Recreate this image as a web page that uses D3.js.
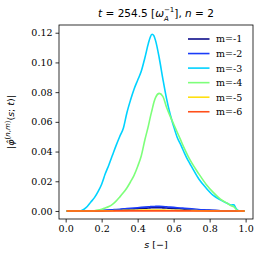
<!DOCTYPE html>
<html><head><meta charset="utf-8">
<script src="https://cdn.jsdelivr.net/npm/d3@7"></script>
<style>
body{margin:0;background:#fff;}
svg{display:block;}
text{fill:#000;}
</style></head>
<body>
<svg id="c" width="262" height="260"></svg>
<script>
const sGrid = [0.005,0.04,0.08,0.10,0.12,0.14,0.16,0.18,0.20,0.22,
  0.24,0.26,0.28,0.30,0.32,0.34,0.36,0.38,0.40,0.42,
  0.44,0.46,0.47,0.48,0.49,0.50,0.52,0.54,0.56,0.58,
  0.60,0.62,0.64,0.66,0.68,0.70,0.74,0.78,0.82,0.86,
  0.90,0.92,0.935,0.945,0.955,0.97,0.995];
const mLabels = ["m=-1","m=-2","m=-3","m=-4","m=-5","m=-6"];
const mColors = ["#0c0c8a","#1a3cf8","#00d2ff","#7dff7a","#ffe010","#ff4f1a"];
const m1 = [0,0,0,0,0,0,0,0.0001,0.0002,0.0003,
  0.0004,0.0005,0.0007,0.0008,0.001,0.0011,0.0013,0.0014,0.0016,0.0017,
  0.0019,0.002,0.0021,0.0022,0.0022,0.0022,0.0022,0.0021,0.002,0.0018,
  0.0017,0.0015,0.0014,0.0012,0.0011,0.001,0.0007,0.0005,0.0003,0.0001,
  0,0,0,0,0,0,0];
const m2 = [0,0,0,0,0,0,0.0001,0.0002,0.0003,0.0005,
  0.0006,0.0008,0.001,0.0012,0.0014,0.0016,0.0018,0.002,0.0022,0.0024,
  0.0026,0.0028,0.0029,0.003,0.003,0.0031,0.0031,0.003,0.0028,0.0026,
  0.0024,0.0022,0.002,0.0018,0.0016,0.0014,0.001,0.0007,0.0004,0.0002,
  0.0001,0,0,0,0,0,0];
const m3 = [0,0,0,0.001,0.003,0.006,0.009,0.013,0.018,0.025,
  0.031,0.0375,0.044,0.050,0.0555,0.066,0.0745,0.082,0.088,0.094,
  0.103,0.113,0.117,0.119,0.118,0.1145,0.103,0.089,0.076,0.0655,
  0.057,0.0495,0.0445,0.039,0.034,0.0298,0.0215,0.0155,0.0105,0.0075,
  0.005,0.004,0.0042,0.002,0.0006,0,0];
const m4 = [0,0,0,0,0,0,0.0002,0.0006,0.0012,0.002,
  0.003,0.0045,0.0066,0.0093,0.0122,0.0155,0.0195,0.024,0.030,0.037,
  0.0478,0.0575,0.063,0.068,0.073,0.0765,0.0792,0.0772,0.070,0.064,
  0.0585,0.053,0.0475,0.042,0.037,0.0325,0.025,0.018,0.0125,0.008,
  0.005,0.0035,0.0028,0.0015,0.0004,0,0];
const m5 = [0,0,0,0,0,0,0,0,0.0001,0.0001,
  0.0002,0.0002,0.0003,0.0003,0.0004,0.0004,0.0005,0.0005,0.0005,0.0006,
  0.0006,0.0006,0.0006,0.0006,0.0006,0.0006,0.0006,0.0006,0.0005,0.0005,
  0.0005,0.0004,0.0004,0.0003,0.0003,0.0003,0.0002,0.0001,0.0001,0,
  0,0,0,0,0,0,0];
const m6 = [0,0,0,0,0,0,0,0,0,0,
  0,0,0.0001,0.0001,0.0001,0.0001,0.0001,0.0001,0.0001,0.0001,
  0.0001,0.0001,0.0001,0.0001,0.0001,0.0001,0.0001,0.0001,0.0001,0.0001,
  0.0001,0.0001,0.0001,0.0001,0.0001,0,0,0,0,0,
  0,0,0,0,0,0,0];
const series = [m1,m2,m3,m4,m5,m6];
const xTicks = [0.0,0.2,0.4,0.6,0.8,1.0];
const yTicks = [0.00,0.02,0.04,0.06,0.08,0.10,0.12];

const L=59, R=253, T=25, B=219;
const svg = d3.select("#c");
const x = d3.scaleLinear().domain([-0.037,1.041]).range([L,R]);
const y = d3.scaleLinear().domain([-0.0054,0.1252]).range([B,T]);

svg.append("clipPath").attr("id","clip").append("rect")
  .attr("x",L).attr("y",T).attr("width",R-L).attr("height",B-T);

const line = d3.line().x((d,i)=>x(sGrid[i])).y(d=>y(d)).curve(d3.curveMonotoneX);
const g = svg.append("g").attr("clip-path","url(#clip)");
series.forEach((vals,k)=>{
  g.append("path").attr("d",line(vals)).attr("fill","none")
    .attr("stroke",mColors[k]).attr("stroke-width",1.6)
    .attr("stroke-linejoin","round").attr("stroke-linecap","butt");
});

const tickFont = "DejaVu Serif";
const xAxis = svg.append("g").attr("transform",`translate(0,${B})`)
  .call(d3.axisBottom(x).tickValues(xTicks).tickFormat(d3.format(".1f")).tickSize(3.5).tickPadding(3));
const yAxis = svg.append("g").attr("transform",`translate(${L},0)`)
  .call(d3.axisLeft(y).tickValues(yTicks).tickFormat(d3.format(".2f")).tickSize(3.5).tickPadding(3));
[xAxis,yAxis].forEach(a=>{
  a.select(".domain").remove();
  a.selectAll("line").attr("stroke","#000").attr("stroke-width",0.8);
  a.selectAll("text").attr("font-family",tickFont).attr("font-size",9.5).attr("fill","#000");
});
svg.append("rect").attr("x",L).attr("y",T).attr("width",R-L).attr("height",B-T)
  .attr("fill","none").attr("stroke","#000").attr("stroke-width",0.8);

// legend
const lg = svg.append("g");
mLabels.forEach((lab,k)=>{
  const yy = 39 + k*14.55;
  lg.append("line").attr("x1",188).attr("x2",209.5).attr("y1",yy).attr("y2",yy)
    .attr("stroke",mColors[k]).attr("stroke-width",1.6);
  lg.append("text").attr("x",216).attr("y",yy+3.4).attr("font-family",tickFont)
    .attr("font-size",9.5).text(lab);
});

// title
const title = svg.append("text").attr("x",(L+R)/2).attr("y",17).attr("text-anchor","middle")
  .attr("font-family","DejaVu Sans").attr("font-size",10.5);
title.append("tspan").attr("font-style","italic").text("t");
title.append("tspan").text(" = 254.5 [");
title.append("tspan").attr("font-style","italic").text("ω");
title.append("tspan").attr("font-style","italic").attr("font-size",7).attr("dy",3.5).text("A");
title.append("tspan").attr("font-size",7).attr("dx",-4.8).attr("dy",-8.5).text("−1");
title.append("tspan").attr("dy",5).text("],  ");
title.append("tspan").attr("font-style","italic").text("n");
title.append("tspan").text(" = 2");

// y label
const yl = svg.append("text").attr("transform",`translate(14,${(T+B)/2}) rotate(-90)`)
  .attr("text-anchor","middle").attr("font-family","DejaVu Sans").attr("font-size",9.5);
yl.append("tspan").text("|");
yl.append("tspan").attr("font-style","italic").text("φ\u0302");
yl.append("tspan").attr("font-size",7).attr("dy",-4).text("(");
yl.append("tspan").attr("font-size",7).attr("font-style","italic").text("n");
yl.append("tspan").attr("font-size",7).text(",");
yl.append("tspan").attr("font-size",7).attr("font-style","italic").text("m");
yl.append("tspan").attr("font-size",7).text(")");
yl.append("tspan").attr("dy",4).text("(");
yl.append("tspan").attr("font-style","italic").text("s");
yl.append("tspan").text("; ");
yl.append("tspan").attr("font-style","italic").text("t");
yl.append("tspan").text(")|");

// x label
const xl = svg.append("text").attr("x",(L+R)/2).attr("y",248).attr("text-anchor","middle")
  .attr("font-family","DejaVu Sans").attr("font-size",9.5);
xl.append("tspan").attr("font-style","italic").text("s");
xl.append("tspan").text(" [−]");
</script>
</body></html>
